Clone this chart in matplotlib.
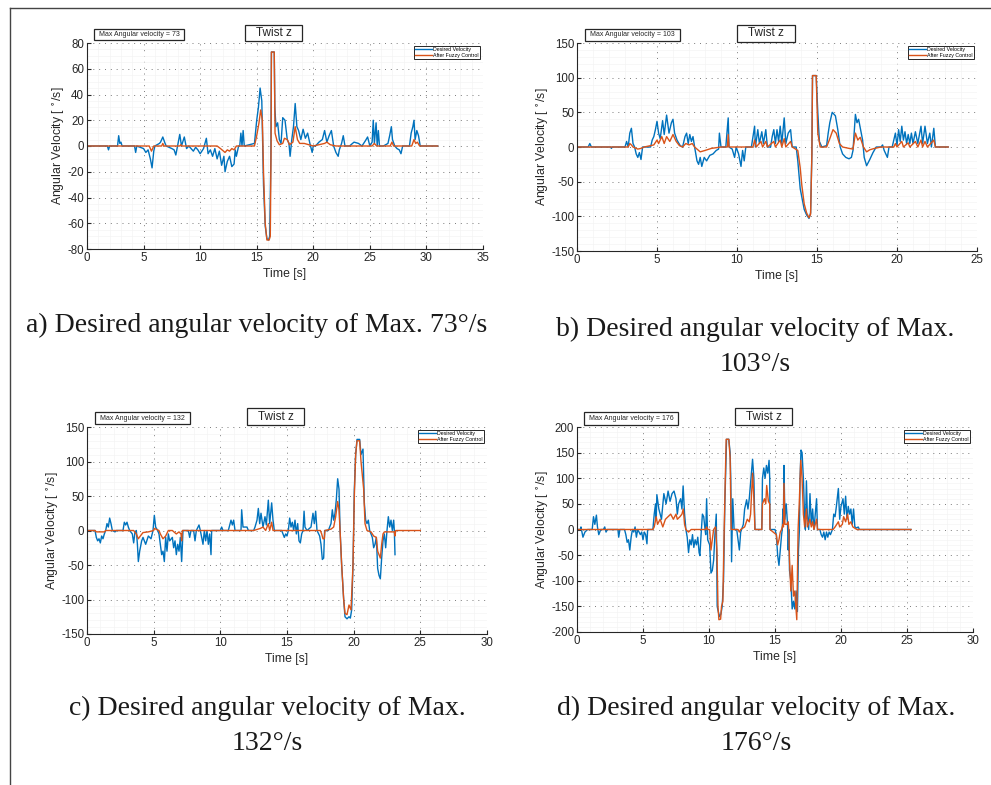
import numpy as np
import matplotlib
matplotlib.use("Agg")
import matplotlib.pyplot as plt
from matplotlib.patches import Rectangle
from matplotlib.lines import Line2D
from matplotlib.ticker import MultipleLocator, AutoMinorLocator

plt.rcParams['font.family'] = ['Liberation Sans', 'DejaVu Sans']
plt.rcParams['axes.unicode_minus'] = False

# (time [s], angular velocity [deg/s])
a_desired = [(0,0),(1.8,0),(1.9,-3),(2.0,0),(2.7,0),(2.8,8),(2.9,2),(3.0,3),(3.1,0),(4.2,0),(4.3,-5),(4.4,0),
             (5.0,-2),(5.2,-5),(5.4,-3),(5.6,-10),(5.75,-17),(5.9,-4),(6.0,0),(6.4,2),(6.5,3),(6.7,7),(6.9,2),
             (7.0,0),(7.5,-2),(7.7,-3),(7.85,-7),(8.0,0),(8.2,9),(8.35,0),(8.6,7),(8.8,-2),(9.0,0),(9.4,-4),
             (9.6,-1),(9.8,-3),(10.0,-6),(10.3,-2),(10.55,6),(10.7,-6),(10.9,-3),(11.1,-8),(11.3,-2),(11.5,-10),
             (11.7,-4),(11.9,-15),(12.1,-8),(12.2,-20),(12.4,-12),(12.6,-8),(12.8,-16),(13.0,-14),(13.1,-3),
             (13.2,-8),(13.4,0),(13.5,0),(13.6,10),(13.7,0),(13.8,12),(13.9,0),(14.8,2),(15.0,20),(15.15,30),
             (15.3,45),(15.45,35),(15.6,-30),(15.75,-62),(15.9,-72),(16.05,-73),(16.15,-70),(16.25,-10),
             (16.3,73),(16.55,73),(16.6,30),(16.7,15),(16.85,18),(17.0,5),(17.15,2),(17.3,22),(17.5,20),
             (17.7,5),(17.85,2),(17.95,-8),(18.1,5),(18.25,15),(18.4,33),(18.55,15),(18.7,12),(18.9,5),
             (19.1,13),(19.3,6),(19.5,10),(19.7,2),(19.9,-5),(20.0,0),(20.2,0),(20.5,3),(20.8,5),(21.0,12),
             (21.2,3),(21.4,8),(21.6,12),(21.8,0),(22.0,-5),(22.2,-8),(22.3,-3),(22.5,2),(22.65,8),(22.8,0),
             (23.2,0),(23.6,3),(24.0,2),(24.3,0),(24.6,4),(24.8,7),(25.0,0),(25.2,3),(25.3,20),(25.4,2),
             (25.55,18),(25.65,0),(25.75,12),(25.85,0),(26.2,0),(26.6,2),(26.75,8),(26.9,15),(27.0,5),(27.2,0),
             (27.4,-2),(27.6,-3),(27.75,-6),(27.9,0),(28.5,0),(28.65,10),(28.8,15),(28.9,20),(29.0,5),
             (29.15,12),(29.3,8),(29.45,0),(31.0,0)]
a_fuzzy = [(0,0),(5.5,0),(5.7,-4),(5.9,0),(6.6,0),(6.7,2),(6.8,0),(8.2,0),(8.3,1),(8.4,0),(11.5,0),(11.8,-2),
           (12.2,-5),(12.4,-3),(12.6,-4),(12.8,-2),(13.0,-3),(13.2,0),(14.8,0),(15.0,8),(15.2,18),(15.35,28),
           (15.5,20),(15.6,-20),(15.75,-60),(15.9,-73),(16.1,-73),(16.2,-70),(16.27,0),(16.3,73),(16.55,73),
           (16.62,10),(16.8,4),(17.0,1),(17.3,2),(17.45,6),(17.7,5),(17.9,1),(18.2,3),(18.4,15),(18.6,5),
           (18.8,2),(19.2,2),(19.6,1),(20.0,0),(21.0,2),(21.2,3),(21.5,1),(22.0,0),(25.2,0),(25.4,2),(25.6,0),
           (26.8,0),(26.95,3),(27.1,0),(28.7,0),(28.9,5),(29.05,2),(29.2,3),(29.4,0),(31.0,0)]

b_desired = [(0,0),(0.7,0),(0.8,5),(0.9,0),(2.1,0),(2.15,-2),(2.2,0),(3.0,0),(3.1,8),(3.2,0),(3.3,20),(3.4,27),
             (3.5,5),(3.6,0),(3.7,-10),(3.8,-15),(3.9,-8),(4.0,-18),(4.1,0),(4.6,0),(4.7,10),(4.8,15),(4.9,25),
             (5.0,37),(5.1,20),(5.2,12),(5.35,38),(5.45,18),(5.6,46),(5.75,20),(5.9,35),(6.0,40),(6.1,20),
             (6.25,10),(6.45,2),(6.6,0),(6.75,15),(6.85,20),(6.95,5),(7.05,18),(7.15,8),(7.25,15),(7.35,0),
             (7.5,-20),(7.6,-25),(7.7,-15),(7.8,-28),(7.95,-15),(8.1,-20),(8.3,-12),(8.5,-10),(8.7,-5),
             (8.85,-3),(8.9,20),(9.0,0),(9.3,0),(9.45,42),(9.5,0),(9.7,-3),(9.85,-15),(9.95,0),(10.1,-10),
             (10.25,-28),(10.35,-5),(10.45,-20),(10.55,0),(10.9,0),(11.0,15),(11.1,30),(11.15,0),(11.3,25),
             (11.4,5),(11.55,22),(11.65,5),(11.8,25),(11.9,0),(12.1,0),(12.2,15),(12.3,25),(12.4,5),(12.5,25),
             (12.6,8),(12.7,30),(12.8,5),(12.95,42),(13.05,5),(13.2,20),(13.35,25),(13.45,0),(13.7,0),
             (13.8,-20),(13.95,-60),(14.05,-72),(14.2,-90),(14.35,-98),(14.5,-103),(14.6,-95),(14.68,-10),
             (14.72,103),(14.95,103),(15.05,50),(15.15,8),(15.3,0),(15.6,2),(15.7,20),(15.8,35),(15.95,50),
             (16.15,45),(16.3,25),(16.45,0),(16.6,-10),(16.8,-15),(17.0,-17),(17.15,-15),(17.25,-5),(17.32,20),
             (17.4,47),(17.5,35),(17.6,40),(17.7,28),(17.85,10),(17.95,-15),(18.1,-27),(18.3,-18),(18.5,-8),
             (18.7,0),(19.0,0),(19.1,3),(19.2,-5),(19.3,-10),(19.4,-15),(19.5,0),(19.7,0),(19.8,10),(19.9,20),
             (20.0,2),(20.1,25),(20.2,8),(20.3,30),(20.4,10),(20.5,22),(20.6,5),(20.7,18),(20.8,5),(20.9,20),
             (21.0,5),(21.15,22),(21.3,5),(21.5,30),(21.6,5),(21.75,30),(21.9,5),(22.05,20),(22.15,0),
             (22.3,27),(22.4,0),(23.2,0)]
b_fuzzy = [(0,0),(3.2,0),(3.3,5),(3.4,3),(3.5,0),(3.8,-3),(4.0,-2),(4.2,0),(4.8,3),(5.0,10),(5.1,5),(5.3,15),
           (5.45,5),(5.6,15),(5.8,8),(6.0,18),(6.2,8),(6.4,2),(6.6,0),(6.8,5),(7.0,3),(7.2,5),(7.35,0),
           (7.5,-3),(7.7,-7),(8.0,-5),(8.4,-2),(9.0,0),(9.4,0),(9.45,18),(9.5,0),(11.0,0),(11.1,10),(11.2,0),
           (11.5,8),(11.6,0),(11.8,8),(11.9,0),(12.3,8),(12.4,0),(12.7,10),(12.8,0),(12.95,12),(13.05,0),
           (13.35,8),(13.45,0),(13.8,-5),(13.95,-30),(14.05,-55),(14.2,-82),(14.35,-95),(14.5,-102),
           (14.6,-97),(14.68,-10),(14.72,103),(14.95,103),(15.05,20),(15.2,0),(15.6,0),(15.8,12),(16.0,25),
           (16.2,20),(16.4,5),(16.6,0),(17.0,-2),(17.25,-3),(17.4,20),(17.55,10),(17.7,14),(17.9,0),
           (18.1,-7),(18.3,-4),(18.6,-2),(19.0,0),(19.8,0),(19.9,5),(20.0,0),(20.3,8),(20.4,0),(20.7,6),
           (20.8,0),(21.15,8),(21.3,0),(21.5,10),(21.6,0),(21.75,8),(21.9,0),(22.3,10),(22.4,0),(23.2,0)]

c_desired = [(0,0),(0.6,0),(0.7,-10),(0.8,-15),(0.9,-12),(1.0,-18),(1.1,-8),(1.2,-12),(1.3,-5),(1.4,0),(1.5,10),
             (1.6,5),(1.7,18),(1.8,10),(1.9,0),(2.1,-2),(2.2,0),(2.7,0),(2.8,12),(2.9,8),(3.0,12),(3.1,5),
             (3.2,0),(3.4,-5),(3.5,-18),(3.6,-2),(3.7,0),(3.78,-20),(3.85,-45),(3.95,-30),(4.1,-15),(4.2,-10),
             (4.4,-20),(4.6,-8),(4.8,-12),(4.95,0),(5.05,22),(5.15,5),(5.3,0),(5.4,-5),(5.5,-20),(5.6,-35),
             (5.7,-30),(5.8,-45),(5.9,-10),(6.0,-30),(6.1,-5),(6.2,-15),(6.4,-10),(6.5,-25),(6.6,-15),
             (6.7,-35),(6.8,-20),(6.9,-30),(7.0,-10),(7.1,-45),(7.2,0),(7.6,0),(7.7,-10),(7.8,0),(8.0,0),
             (8.1,-15),(8.2,0),(8.4,8),(8.5,0),(8.7,-20),(8.8,0),(8.9,-15),(9.0,0),(9.1,-20),(9.2,-5),
             (9.3,-35),(9.35,0),(10.0,0),(10.1,5),(10.2,0),(10.6,0),(10.8,15),(10.9,8),(11.0,15),(11.1,0),
             (11.55,0),(11.6,30),(11.7,5),(12.0,5),(12.1,0),(12.5,0),(12.6,5),(12.75,15),(12.85,32),(12.95,10),
             (13.05,25),(13.2,5),(13.35,20),(13.45,8),(13.6,44),(13.7,10),(13.85,40),(13.95,15),(14.05,0),
             (14.6,0),(14.7,-5),(14.8,-10),(14.9,-5),(15.0,-8),(15.1,0),(15.2,18),(15.3,5),(15.4,12),(15.5,0),
             (15.6,15),(15.7,-5),(15.8,10),(15.9,-15),(16.0,-18),(16.1,-5),(16.2,0),(16.28,28),(16.35,5),
             (16.5,0),(16.8,5),(16.95,25),(17.05,10),(17.15,28),(17.25,0),(17.45,-8),(17.55,-20),(17.65,-42),
             (17.75,-40),(17.82,0),(18.1,0),(18.3,10),(18.4,30),(18.5,15),(18.6,25),(18.7,45),(18.8,75),
             (18.9,60),(18.98,0),(19.1,-50),(19.25,-100),(19.35,-125),(19.5,-128),(19.65,-125),(19.75,-127),
             (19.85,-115),(19.95,-50),(20.05,60),(20.15,110),(20.25,132),(20.45,132),(20.55,110),(20.7,118),
             (20.8,40),(20.9,15),(21.0,10),(21.1,15),(21.2,0),(21.4,-10),(21.5,-25),(21.6,-20),(21.7,-10),
             (21.8,-55),(21.9,-65),(22.0,-70),(22.1,-40),(22.2,-15),(22.3,-5),(22.4,-25),(22.5,0),(22.6,20),
             (22.7,5),(22.8,15),(22.9,0),(23.0,15),(23.05,0),(23.1,-35)]
c_fuzzy = [(0,0),(0.6,0),(0.7,-2),(1.3,-2),(1.4,0),(3.5,0),(3.7,-5),(3.85,-12),(4.0,-8),(4.2,-3),(4.6,-2),
           (5.0,0),(5.05,3),(5.4,0),(5.5,-5),(5.7,-12),(5.9,-8),(6.1,0),(6.4,0),(6.7,-5),(6.9,-2),(7.05,-5),
           (7.1,-15),(7.15,0),(12.5,0),(13.0,3),(13.2,5),(13.4,0),(13.6,10),(13.7,0),(13.85,12),(13.95,0),
           (17.5,0),(17.6,-5),(17.7,-12),(17.8,-12),(17.85,0),(18.3,2),(18.5,5),(18.65,20),(18.8,42),
           (18.9,30),(18.98,0),(19.1,-50),(19.25,-100),(19.35,-120),(19.5,-122),(19.65,-108),(19.8,-115),
           (19.95,-50),(20.05,50),(20.15,110),(20.25,130),(20.45,130),(20.55,100),(20.6,90),(20.75,60),
           (20.85,10),(21.0,0),(21.3,-2),(21.5,-8),(21.7,-10),(21.8,-30),(22.0,-40),(22.1,-20),(22.2,-5),
           (22.3,-2),(23.05,-2),(23.1,-8),(23.15,0),(25.0,0)]

d_desired = [(0,0),(0.25,0),(0.3,5),(0.45,-15),(0.6,-5),(0.8,0),(1.15,0),(1.25,25),(1.35,10),(1.47,28),
             (1.55,5),(1.65,-10),(1.8,0),(2.0,0),(2.1,5),(2.2,-5),(2.3,0),(3.1,0),(3.16,-15),(3.25,0),(3.6,0),
             (3.7,-10),(3.8,-25),(3.9,-20),(4.0,-40),(4.1,-15),(4.2,0),(4.3,-5),(4.4,5),(4.5,-15),(4.6,0),
             (4.8,-10),(4.9,-5),(5.0,-20),(5.1,-5),(5.2,-10),(5.3,-28),(5.35,0),(5.75,0),(5.85,30),(5.95,50),
             (6.0,20),(6.05,68),(6.2,40),(6.4,20),(6.58,70),(6.75,50),(6.9,75),(7.05,55),(7.2,70),(7.35,75),
             (7.5,60),(7.6,30),(7.7,50),(7.85,60),(7.95,40),(8.04,85),(8.15,30),(8.25,0),(8.35,-15),
             (8.45,-45),(8.55,-20),(8.65,-30),(8.75,-10),(8.85,-35),(8.95,-20),(9.05,-30),(9.15,-15),
             (9.25,-45),(9.31,-51),(9.4,-10),(9.5,30),(9.6,25),(9.7,0),(9.75,-10),(9.82,60),(9.9,-20),
             (10.05,-30),(10.15,-85),(10.25,-80),(10.35,-60),(10.45,-10),(10.55,30),(10.62,-150),(10.7,-160),
             (10.8,-170),(10.9,-165),(11.0,-150),(11.1,-100),(11.2,50),(11.33,176),(11.5,176),(11.6,150),
             (11.65,100),(11.71,-63),(11.8,60),(11.9,0),(12.1,0),(12.2,-20),(12.3,-40),(12.4,-5),(12.6,10),
             (12.7,40),(12.85,58),(12.95,40),(13.05,60),(13.15,90),(13.22,110),(13.3,137),(13.4,100),
             (13.48,0),(14.0,0),(14.05,100),(14.15,120),(14.25,100),(14.35,125),(14.45,110),(14.55,135),
             (14.6,100),(14.62,0),(15.0,0),(15.1,-10),(15.2,-50),(15.3,-70),(15.4,-40),(15.5,-10),(15.55,0),
             (15.6,40),(15.64,30),(15.68,125),(15.75,20),(15.85,50),(15.95,10),(16.0,-40),(16.05,0),
             (16.1,-80),(16.2,-100),(16.3,-155),(16.4,-140),(16.5,-155),(16.6,-120),(16.7,-160),(16.78,-40),
             (16.85,0),(16.9,100),(16.97,155),(17.05,150),(17.15,100),(17.25,20),(17.3,0),(17.38,95),
             (17.45,30),(17.55,0),(17.65,70),(17.75,10),(17.85,40),(17.95,0),(18.05,30),(18.15,60),(18.22,0),
             (18.4,0),(18.5,-10),(18.6,-15),(18.7,-5),(18.8,-20),(18.9,-5),(19.0,-15),(19.1,-5),(19.2,-10),
             (19.35,0),(19.45,30),(19.55,25),(19.65,45),(19.8,80),(19.9,20),(20.0,45),(20.15,60),(20.25,30),
             (20.35,65),(20.45,20),(20.55,45),(20.65,30),(20.75,40),(20.85,10),(20.95,40),(21.05,5),(21.2,3),
             (21.3,5),(21.4,0),(25.3,0)]
d_fuzzy = [(0,0),(5.75,0),(5.85,5),(6.0,25),(6.1,10),(6.3,20),(6.5,5),(6.7,20),(6.9,25),(7.1,30),(7.3,20),
           (7.5,30),(7.6,20),(7.8,25),(7.95,30),(8.05,40),(8.15,10),(8.25,0),(8.45,-5),(8.65,0),(9.75,0),
           (9.82,5),(9.9,0),(10.05,0),(10.15,-40),(10.25,-20),(10.35,0),(10.5,5),(10.6,-40),(10.68,-150),
           (10.75,-176),(10.88,-175),(10.95,-150),(11.05,-140),(11.15,0),(11.3,176),(11.5,176),(11.6,140),
           (11.68,0),(12.2,0),(12.3,-5),(12.4,0),(12.7,5),(12.9,20),(13.05,15),(13.15,30),(13.3,110),
           (13.4,60),(13.48,0),(14.0,0),(14.05,50),(14.2,60),(14.3,50),(14.37,86),(14.5,55),(14.6,50),
           (14.62,0),(15.1,-10),(15.2,-30),(15.3,-20),(15.4,-5),(15.5,0),(15.6,10),(15.64,5),(15.68,90),
           (15.75,10),(15.9,10),(16.0,15),(16.05,-5),(16.1,-60),(16.2,-120),(16.3,-70),(16.4,-130),
           (16.5,-120),(16.55,-140),(16.65,-176),(16.75,0),(16.85,60),(16.95,135),(17.05,100),(17.15,30),
           (17.25,5),(17.38,40),(17.45,5),(17.65,20),(17.75,5),(17.85,15),(17.95,0),(18.05,10),(18.15,20),
           (18.22,0),(19.4,0),(19.55,5),(19.8,15),(19.9,5),(20.1,10),(20.2,25),(20.35,15),(20.5,30),
           (20.6,10),(20.75,15),(20.9,5),(21.2,0),(25.3,0)]

max_values = [73, 103, 132, 176]
x_limits = [35, 25, 30, 30]
y_limits = [80, 150, 150, 200]
y_steps = [20, 50, 50, 50]
captions = ["a) Desired angular velocity of Max. 73°/s",
            "b) Desired angular velocity of Max.\n103°/s",
            "c) Desired angular velocity of Max.\n132°/s",
            "d) Desired angular velocity of Max.\n176°/s"]

W, H = 991, 785
fig = plt.figure(figsize=(W / 100, H / 100), dpi=100)

# pixel boxes of the axes: left, top, right, bottom
ax_px = [(87, 43, 483, 249), (577, 43, 977, 251), (87, 427, 487, 634), (577, 427, 973, 632)]
max_box_px = [(94, 29, 184, 40), (585, 29, 680, 41), (95, 412, 190, 424), (584, 412, 678, 425)]
twist_box_px = [(245, 25, 302, 41), (737, 25, 795, 42), (247, 408, 304, 425), (735, 408, 792, 425)]
caption_px = [(257, 325), (755, 347), (267, 726), (756, 726)]

BLUE = '#0072BD'
ORANGE = '#D95319'
GREY = '#262626'


def fig_rect(px):
    l, t, r, b = px
    return l / W, 1 - b / H, (r - l) / W, (b - t) / H


def text_box(px, text, size):
    x, y, w, h = fig_rect(px)
    fig.add_artist(Rectangle((x, y), w, h, transform=fig.transFigure, facecolor='white',
                             edgecolor=GREY, linewidth=0.9))
    fig.text(x + w / 2, y + h / 2, text, ha='center', va='center', fontsize=size, color=GREY)


datasets = [(a_desired, a_fuzzy), (b_desired, b_fuzzy), (c_desired, c_fuzzy), (d_desired, d_fuzzy)]

for i, (desired, fuzzy) in enumerate(datasets):
    ax = fig.add_axes(fig_rect(ax_px[i]))
    td, vd = np.array(desired).T
    tf, vf = np.array(fuzzy).T
    ax.plot(td, vd, color=BLUE, lw=1.0, label='Desired Velocity')
    ax.plot(tf, vf, color=ORANGE, lw=1.0, label='After Fuzzy Control')

    ax.set_xlim(0, x_limits[i])
    ax.set_ylim(-y_limits[i], y_limits[i])
    ax.xaxis.set_major_locator(MultipleLocator(5))
    ax.yaxis.set_major_locator(MultipleLocator(y_steps[i]))
    ax.xaxis.set_minor_locator(AutoMinorLocator(5))
    ax.yaxis.set_minor_locator(AutoMinorLocator(4 if y_steps[i] == 20 else 5))
    ax.grid(which='major', linestyle=(0, (1, 5)), color='#7a7a7a', linewidth=0.7)
    ax.grid(which='minor', linestyle='-', color='#f4f4f4', linewidth=0.5)
    ax.set_axisbelow(True)

    for s in ['top', 'right']:
        ax.spines[s].set_visible(False)
    for s in ['left', 'bottom']:
        ax.spines[s].set_color(GREY)
        ax.spines[s].set_linewidth(0.8)
    ax.tick_params(which='major', direction='in', length=3, width=0.8, labelsize=8.3,
                   colors=GREY, pad=2)
    ax.tick_params(which='minor', length=0)

    ax.set_xlabel('Time [s]', fontsize=8.8, color=GREY, labelpad=3)
    ax.set_ylabel(r'Angular Velocity [ $^{\circ}$/s]', fontsize=8.8, color=GREY, labelpad=0)

    leg = ax.legend(loc='upper right', fontsize=3.8, handlelength=3.2, handletextpad=0.3,
                    borderpad=0.25, labelspacing=0.15, fancybox=False, framealpha=1,
                    borderaxespad=0.5)
    leg.get_frame().set_edgecolor(GREY)
    leg.get_frame().set_linewidth(0.7)

    text_box(max_box_px[i], 'Max Angular velocity = %d' % max_values[i], 5)
    text_box(twist_box_px[i], 'Twist z', 8.5)

    cx, cy = caption_px[i]
    fig.text(cx / W, 1 - cy / H, captions[i], ha='center', va='center', fontsize=20,
             family='Liberation Serif', color='#1a1a1a', linespacing=1.55)

# page frame lines (top and left)
fig.add_artist(Line2D([10 / W, 1], [1 - 8 / H, 1 - 8 / H], transform=fig.transFigure,
                      color='#444444', linewidth=1.0))
fig.add_artist(Line2D([10 / W, 10 / W], [0, 1 - 8 / H], transform=fig.transFigure,
                      color='#444444', linewidth=1.0))

fig.savefig('out.png', dpi=100)
